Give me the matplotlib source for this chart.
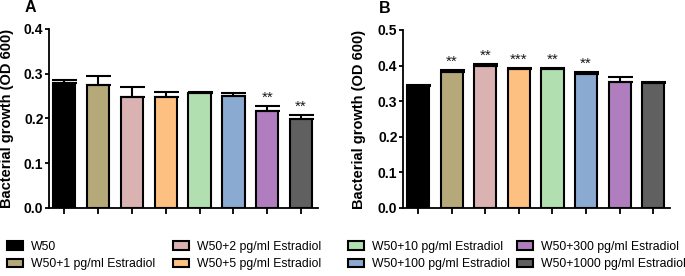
import numpy as np
import matplotlib
matplotlib.use("Agg")
import matplotlib.pyplot as plt

plt.rcParams['font.family'] = ['Liberation Sans', 'DejaVu Sans']

groups = ['W50', 'W50+1 pg/ml Estradiol', 'W50+2 pg/ml Estradiol', 'W50+5 pg/ml Estradiol',
          'W50+10 pg/ml Estradiol', 'W50+100 pg/ml Estradiol', 'W50+300 pg/ml Estradiol',
          'W50+1000 pg/ml Estradiol']
colors = ['#000000', '#b5a97a', '#dab2b2', '#fdc080', '#b2dfb0', '#8aaad2', '#b07ebe', '#606060']

# panel A
mean_a = [0.279, 0.275, 0.249, 0.248, 0.258, 0.251, 0.216, 0.199]
err_a = [0.007, 0.019, 0.022, 0.011, 0.002, 0.006, 0.011, 0.008]
stars_a = ['', '', '', '', '', '', '**', '**']

# panel B
mean_b = [0.342, 0.383, 0.398, 0.390, 0.389, 0.375, 0.355, 0.350]
err_b = [0.003, 0.004, 0.006, 0.003, 0.004, 0.006, 0.013, 0.003]
stars_b = ['', '**', '**', '***', '**', '**', '', '']

fig = plt.figure(figsize=(6.85, 2.76), dpi=100)
ax_a = fig.add_axes([0.0715, 0.2464, 0.3927, 0.6486])
ax_b = fig.add_axes([0.5883, 0.2464, 0.3898, 0.645])


def draw_panel(ax, means, errs, stars, ymax, letter, label_x):
    x = np.arange(len(means))
    bars = ax.bar(x, means, width=0.66, color=colors, edgecolor='black', linewidth=1.5, zorder=2)
    ax.errorbar(x, means, yerr=[np.zeros(len(errs)), errs], fmt='none', ecolor='black',
                elinewidth=1.5, capsize=9, capthick=1.5, zorder=3)
    for xi, m, e, s in zip(x, means, errs, stars):
        if s:
            ax.text(xi, m + e + 0.01 * ymax, s, ha='center', va='bottom', fontsize=11,
                    color='#1a1a1a')
    ax.set_xlim(-0.45, 7.5)
    ax.set_ylim(0, ymax)
    ax.set_yticks(np.arange(0, ymax + 0.001, 0.1))
    ax.set_yticklabels(['%.1f' % v for v in np.arange(0, ymax + 0.001, 0.1)],
                       fontsize=10, fontweight='bold')
    ax.set_xticks(x)
    ax.set_xticklabels([])
    for side in ['top', 'right']:
        ax.spines[side].set_visible(False)
    for side in ['left', 'bottom']:
        ax.spines[side].set_linewidth(1.3)
    ax.tick_params(axis='x', direction='out', length=4, width=1.3)
    ax.tick_params(axis='y', direction='out', length=3, width=1.3, pad=1)
    ax.set_ylabel('Bacterial growth (OD 600)', fontsize=10.5, fontweight='bold')
    ax.yaxis.set_label_coords(label_x, 0.5)
    ax.text(-0.07, 1.12, letter, transform=ax.transAxes, fontsize=11.5, fontweight='bold',
            ha='center', va='center')
    return bars


bars = draw_panel(ax_a, mean_a, err_a, stars_a, 0.4, 'A', -0.13)
draw_panel(ax_b, mean_b, err_b, stars_b, 0.5, 'B', -0.137)

# legend in four columns of two
col_x = [0.0102, 0.2526, 0.508, 0.7547]
for c in range(4):
    idx = [2 * c, 2 * c + 1]
    fig.legend([bars[i] for i in idx], [groups[i] for i in idx], loc='upper left',
               bbox_to_anchor=(col_x[c], 0.128), frameon=False, fontsize=8.8,
               borderpad=0, borderaxespad=0, handlelength=1.3, handletextpad=0.65,
               labelspacing=0.45)

fig.savefig('out.png', dpi=100)
